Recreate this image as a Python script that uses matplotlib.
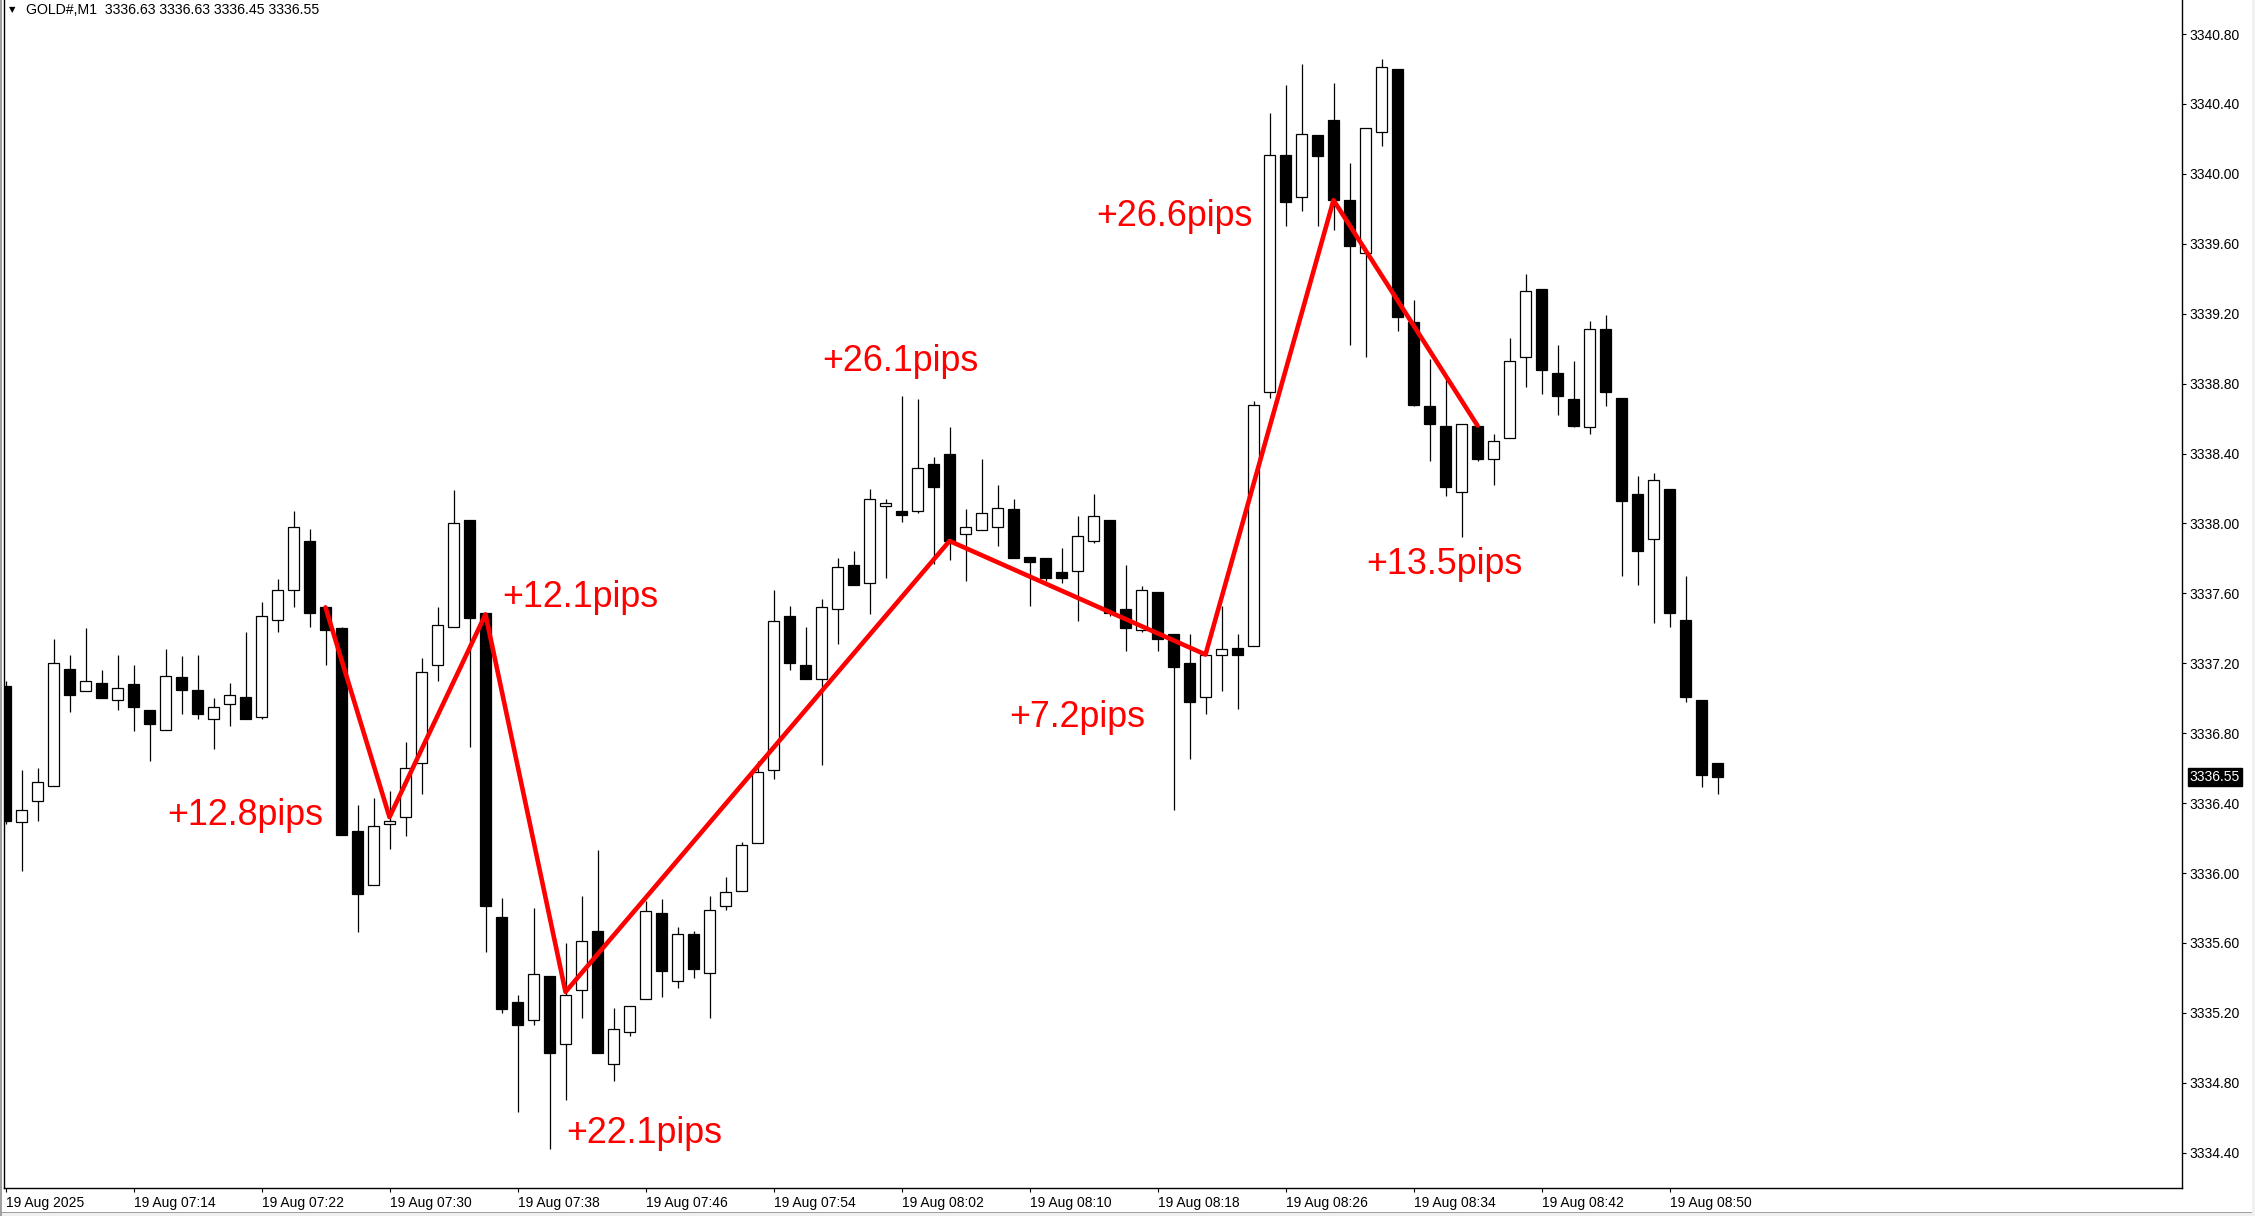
import numpy as np
import matplotlib
matplotlib.use("Agg")
import matplotlib.pyplot as plt
import matplotlib.transforms as mtransforms
from matplotlib.patches import Rectangle

# GOLD#, M1 candles 07:06 .. 08:53
opens = [3337.07, 3336.29, 3336.41, 3336.50, 3337.17, 3337.04, 3337.09, 3336.99, 3337.08, 3336.93,
         3336.82, 3337.12, 3337.05, 3336.88, 3336.97, 3337.01, 3336.89, 3337.45, 3337.62, 3337.90,
         3337.52, 3337.40, 3336.24, 3335.93, 3336.28, 3336.32, 3336.63, 3337.19, 3337.41, 3338.02,
         3337.49, 3335.75, 3335.26, 3335.16, 3335.41, 3335.02, 3335.33, 3335.67, 3334.91, 3335.09,
         3335.28, 3335.77, 3335.38, 3335.65, 3335.43, 3335.81, 3335.90, 3336.17, 3336.59, 3337.47,
         3337.19, 3337.11, 3337.51, 3337.76, 3337.66, 3338.10, 3338.07, 3338.07, 3338.34, 3338.40,
         3337.94, 3337.96, 3337.98, 3338.08, 3337.81, 3337.80, 3337.72, 3337.73, 3337.90, 3338.02,
         3337.51, 3337.39, 3337.61, 3337.37, 3337.20, 3337.01, 3337.25, 3337.29, 3337.30, 3338.75,
         3340.11, 3339.87, 3340.22, 3340.31, 3339.85, 3339.55, 3340.24, 3340.60, 3339.15, 3338.67,
         3338.56, 3338.18, 3338.56, 3338.37, 3338.49, 3338.95, 3339.34, 3338.86, 3338.71, 3338.55,
         3339.11, 3338.72, 3338.17, 3337.91, 3338.20, 3337.45, 3336.99, 3336.63]
highs = [3337.10, 3336.59, 3336.60, 3337.34, 3337.25, 3337.40, 3337.16, 3337.25, 3337.19, 3336.93,
         3337.28, 3337.24, 3337.25, 3337.00, 3337.09, 3337.38, 3337.55, 3337.68, 3338.07, 3337.97,
         3337.52, 3337.41, 3336.39, 3336.43, 3336.47, 3336.75, 3337.23, 3337.52, 3338.19, 3338.02,
         3337.49, 3335.86, 3335.30, 3335.80, 3335.41, 3335.60, 3335.87, 3336.13, 3335.23, 3335.24,
         3335.84, 3335.85, 3335.69, 3335.67, 3335.87, 3335.98, 3336.18, 3336.64, 3337.62, 3337.53,
         3337.41, 3337.57, 3337.80, 3337.84, 3338.20, 3338.14, 3338.73, 3338.71, 3338.38, 3338.55,
         3338.08, 3338.37, 3338.22, 3338.14, 3337.81, 3337.80, 3337.86, 3338.04, 3338.17, 3338.02,
         3337.76, 3337.64, 3337.61, 3337.37, 3337.37, 3337.25, 3337.53, 3337.37, 3338.70, 3340.35,
         3340.51, 3340.63, 3340.22, 3340.52, 3340.06, 3340.26, 3340.66, 3340.60, 3339.28, 3338.94,
         3338.83, 3338.57, 3338.56, 3338.51, 3339.06, 3339.43, 3339.34, 3339.02, 3338.93, 3339.16,
         3339.19, 3338.72, 3338.27, 3338.29, 3338.20, 3337.70, 3336.99, 3336.63]
lows = [3336.28, 3336.01, 3336.30, 3336.50, 3336.92, 3337.04, 3337.00, 3336.93, 3336.81, 3336.64,
        3336.82, 3336.91, 3336.88, 3336.71, 3336.84, 3336.88, 3336.88, 3337.38, 3337.52, 3337.41,
        3337.19, 3336.22, 3335.66, 3335.93, 3336.14, 3336.21, 3336.45, 3337.10, 3337.41, 3336.72,
        3335.55, 3335.20, 3334.63, 3335.13, 3334.42, 3334.70, 3335.17, 3334.97, 3334.81, 3335.07,
        3335.28, 3335.29, 3335.34, 3335.40, 3335.17, 3335.79, 3335.90, 3336.17, 3336.54, 3337.16,
        3337.11, 3336.62, 3337.31, 3337.65, 3337.48, 3337.69, 3338.01, 3338.06, 3337.77, 3337.79,
        3337.67, 3337.96, 3337.87, 3337.80, 3337.53, 3337.67, 3337.66, 3337.44, 3337.89, 3337.47,
        3337.27, 3337.38, 3337.27, 3336.36, 3336.65, 3336.91, 3337.04, 3336.94, 3337.30, 3338.72,
        3339.70, 3339.79, 3339.70, 3339.68, 3339.02, 3338.95, 3340.16, 3339.10, 3338.67, 3338.36,
        3338.16, 3337.92, 3338.36, 3338.22, 3338.49, 3338.78, 3338.74, 3338.62, 3338.55, 3338.51,
        3338.67, 3337.70, 3337.65, 3337.43, 3337.41, 3336.98, 3336.49, 3336.45]
closes = [3336.30, 3336.36, 3336.52, 3337.20, 3337.02, 3337.10, 3337.00, 3337.06, 3336.95, 3336.85,
          3337.13, 3337.05, 3336.91, 3336.95, 3337.02, 3336.88, 3337.47, 3337.62, 3337.98, 3337.49,
          3337.39, 3336.22, 3335.88, 3336.27, 3336.30, 3336.60, 3337.15, 3337.42, 3338.00, 3337.46,
          3335.81, 3335.22, 3335.13, 3335.42, 3334.97, 3335.30, 3335.61, 3334.97, 3335.11, 3335.24,
          3335.78, 3335.44, 3335.65, 3335.45, 3335.79, 3335.89, 3336.16, 3336.58, 3337.44, 3337.20,
          3337.11, 3337.52, 3337.75, 3337.65, 3338.14, 3338.12, 3338.05, 3338.32, 3338.21, 3337.90,
          3337.98, 3338.06, 3338.09, 3337.80, 3337.78, 3337.69, 3337.69, 3337.93, 3338.04, 3337.49,
          3337.40, 3337.62, 3337.34, 3337.18, 3336.98, 3337.25, 3337.28, 3337.25, 3338.68, 3340.11,
          3339.84, 3340.23, 3340.10, 3339.85, 3339.59, 3340.26, 3340.61, 3339.18, 3338.68, 3338.57,
          3338.21, 3338.57, 3338.37, 3338.47, 3338.93, 3339.33, 3338.88, 3338.73, 3338.56, 3339.11,
          3338.75, 3338.13, 3337.84, 3338.25, 3337.49, 3337.01, 3336.56, 3336.55]

time_labels = ["19 Aug 2025", "19 Aug 07:14", "19 Aug 07:22", "19 Aug 07:30", "19 Aug 07:38",
               "19 Aug 07:46", "19 Aug 07:54", "19 Aug 08:02", "19 Aug 08:10", "19 Aug 08:18",
               "19 Aug 08:26", "19 Aug 08:34", "19 Aug 08:42", "19 Aug 08:50"]
price_ticks = [3334.40, 3334.80, 3335.20, 3335.60, 3336.00, 3336.40, 3336.80, 3337.20,
               3337.60, 3338.00, 3338.40, 3338.80, 3339.20, 3339.60, 3340.00, 3340.40, 3340.80]

# zigzag swings (candle index, price)
zig_idx = [20, 24, 30, 35, 59, 75, 83, 92]
zig_price = [3337.52, 3336.32, 3337.48, 3335.32, 3337.90, 3337.25, 3339.85, 3338.56]

pip_text = ["+12.8pips", "+12.1pips", "+22.1pips", "+26.1pips", "+7.2pips", "+26.6pips", "+13.5pips"]
pip_x = [10.08, 31.02, 35.07, 51.07, 62.75, 68.15, 85.04]
pip_y = [3336.35, 3337.60, 3334.53, 3338.95, 3336.91, 3339.78, 3337.79]

header = "GOLD#,M1  3336.63 3336.63 3336.45 3336.55"
last_price = 3336.55

W, H = 2255, 1216
fig = plt.figure(figsize=(W / 100, H / 100), dpi=100, facecolor="white")
ax = fig.add_axes([4.3 / W, 1 - 1188 / H, (2182 - 4.3) / W, 1188 / H])
ax.set_facecolor("white")

o = np.array(opens)
h = np.array(highs)
l = np.array(lows)
c = np.array(closes)
x = np.arange(len(o))
up = c >= o

ax.vlines(x, l, h, color="black", lw=0.9, zorder=2)
bottom = np.minimum(o, c)
height = np.maximum(np.abs(c - o), 0.012)
ax.bar(x[up], height[up], bottom=bottom[up], width=0.65, facecolor="white",
       edgecolor="black", linewidth=0.9, zorder=3)
ax.bar(x[~up], height[~up], bottom=bottom[~up], width=0.65, facecolor="black",
       edgecolor="black", linewidth=0.9, zorder=3)

ax.plot(zig_idx, zig_price, color="#ff0000", lw=3.3, solid_joinstyle="round",
        solid_capstyle="round", zorder=5)

for t, px, py in zip(pip_text, pip_x, pip_y):
    ax.text(px, py, t, color="#ff0000", fontsize=25.8, family="Liberation Sans",
            ha="left", va="center_baseline", zorder=6)

ax.set_xlim(-0.075, 136.03)
ax.set_ylim(3334.198, 3340.995)

ax.set_xticks(np.arange(0, 105, 8))
ax.set_xticklabels(time_labels, ha="left", family="Liberation Sans", fontsize=10)
ax.yaxis.tick_right()
ax.set_yticks(price_ticks)
ax.set_yticklabels(["%.2f" % p for p in price_ticks], family="Liberation Sans", fontsize=10)
ax.tick_params(axis="x", length=3, width=0.8, pad=3, colors="black")
ax.tick_params(axis="y", length=3, width=0.8, pad=2.5, colors="black")

for side in ["left", "bottom", "right"]:
    ax.spines[side].set_color("black")
    ax.spines[side].set_linewidth(1.0)
ax.spines["top"].set_visible(False)

# current price marker
trans = mtransforms.blended_transform_factory(ax.transAxes, ax.transData)
ax.text(1.0035, last_price, "%.2f" % last_price, transform=trans, ha="left", va="center",
        color="white", fontsize=10, family="Liberation Sans", clip_on=False,
        bbox=dict(facecolor="black", edgecolor="black", pad=1.5))

# header
fig.text(9 / W, 1 - 10 / H, "\u25bc", fontsize=6, color="black", va="center", family="DejaVu Sans")
fig.text(26 / W, 1 - 10 / H, header, fontsize=10.2, color="black", va="center",
         family="Liberation Sans")

# window frame
fig.add_artist(Rectangle((0, 0), 1, 3 / H, transform=fig.transFigure, facecolor="#f0f0f0",
                         edgecolor="none"))
fig.add_artist(Rectangle((0, 3 / H), 1, 1 / H, transform=fig.transFigure, facecolor="#a0a0a0",
                         edgecolor="none"))
fig.add_artist(Rectangle((1 - 3 / W, 0), 3 / W, 1, transform=fig.transFigure, facecolor="#f0f0f0",
                         edgecolor="none"))
fig.add_artist(Rectangle((0, 0), 2 / W, 1, transform=fig.transFigure, facecolor="#a0a0a0",
                         edgecolor="none"))

fig.savefig("out.png", dpi=100, facecolor="white")
